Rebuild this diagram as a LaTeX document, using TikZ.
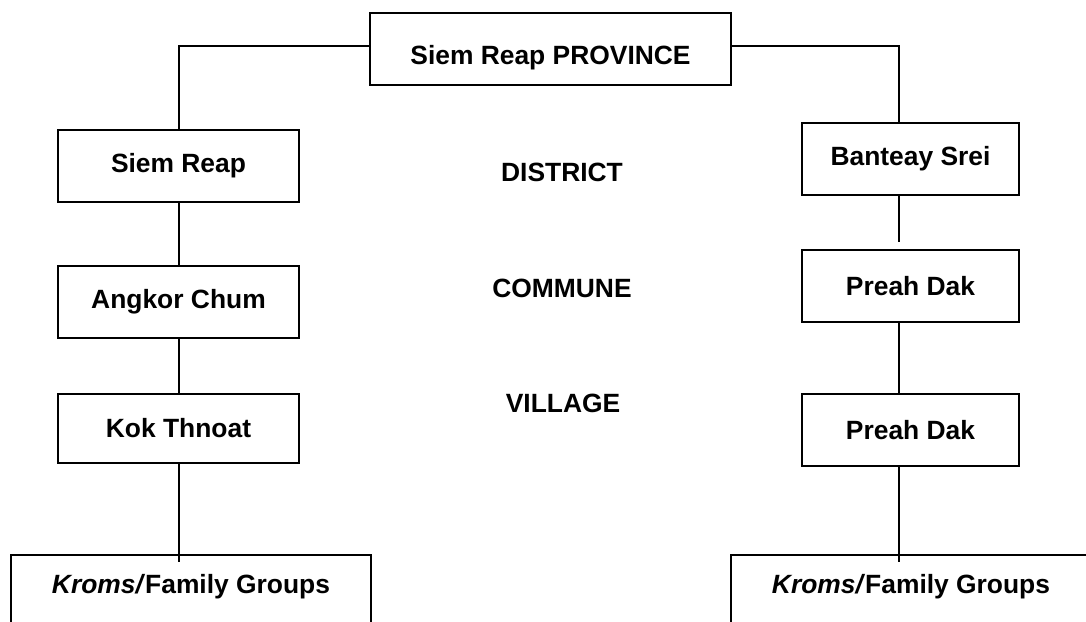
\documentclass[tikz,border=0pt]{standalone}
\usepackage{fontspec}
\setmainfont{Liberation Sans}
\usepackage{tikz}
\usetikzlibrary{calc}

\tikzset{
    unitbox/.style={draw,line width=1pt,minimum width=120.5pt,minimum height=36pt,inner sep=0pt},
    krombox/.style={draw,line width=1pt,minimum width=180pt,anchor=north,inner sep=0pt,text height=19pt,text depth=40pt},
    levellabel/.style={inner sep=0pt},
}

\begin{document}
\begin{tikzpicture}[x=0.5pt,y=-0.5pt,font=\fontsize{13.2}{16}\selectfont\bfseries]
    \clip (0,0) rectangle (1086,621);
    \coordinate (lx) at (179,0);
    \coordinate (rx) at (899,0);

    \node[unitbox,minimum width=180.5pt,text height=17pt,text depth=2pt] (prov) at (550.5,49) {Siem Reap PROVINCE};

    \node[unitbox] (sr) at (178.5,166) {Siem Reap};
    \node[unitbox] (ac) at (178.5,302) {Angkor Chum};
    \node[unitbox,minimum height=34.5pt] (kt) at (178.5,428.5) {Kok Thnoat};
    \node[krombox] (kromL) at (191,554) {\textit{Kroms/}Family Groups};

    \node[unitbox,minimum width=108.5pt] (bs) at (910.5,159) {Banteay Srei};
    \node[unitbox,minimum width=108.5pt] (pdc) at (910.5,286) {Preah Dak};
    \node[unitbox,minimum width=108.5pt] (pdv) at (910.5,430) {Preah Dak};
    \node[krombox] (kromR) at (911,554) {\textit{Kroms/}Family Groups};

    \node[levellabel] (district) at (562,172) {DISTRICT};
    \node[levellabel] (commune) at (562,288) {COMMUNE};
    \node[levellabel] (village) at (563,403) {VILLAGE};

    \draw[line width=1pt] ($(prov.west)+(0,-3)$) -| (sr.north -| lx);
    \draw[line width=1pt] ($(prov.east)+(0,-3)$) -| (bs.north -| rx);
    \draw[line width=1pt] (sr.south -| lx) -- (ac.north -| lx);
    \draw[line width=1pt] (ac.south -| lx) -- (kt.north -| lx);
    \draw[line width=1pt,shorten >=-4pt] (kt.south -| lx) -- (kromL.north -| lx);
    \draw[line width=1pt,shorten >=3.5pt] (bs.south -| rx) -- (pdc.north -| rx);
    \draw[line width=1pt] (pdc.south -| rx) -- (pdv.north -| rx);
    \draw[line width=1pt,shorten >=-4pt] (pdv.south -| rx) -- (kromR.north -| rx);
\end{tikzpicture}
\end{document}
